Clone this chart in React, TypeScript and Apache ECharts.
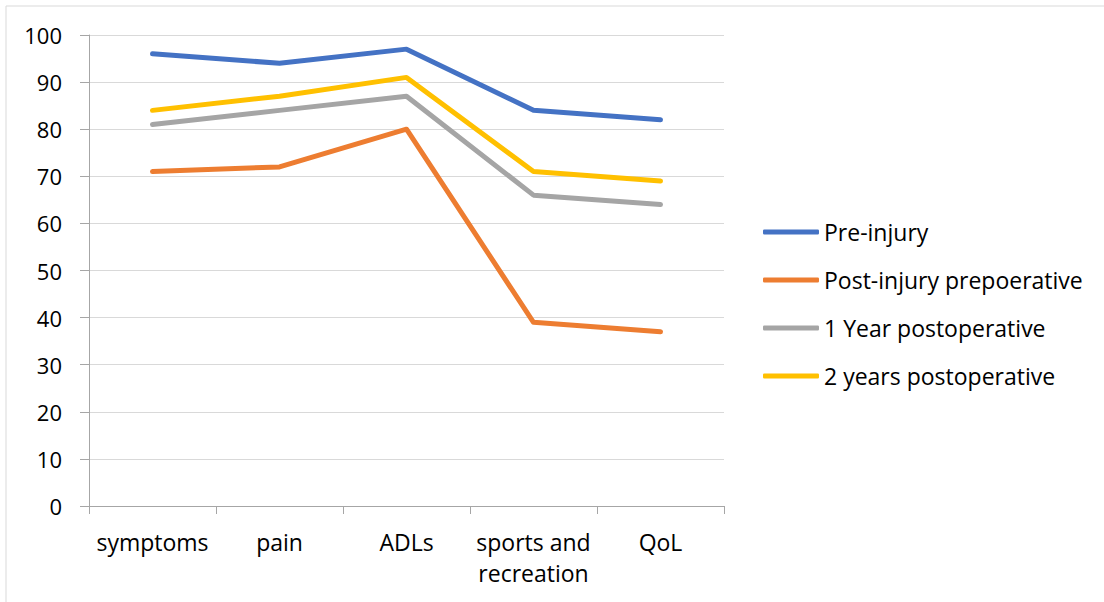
import React, { useEffect, useRef } from "react";
import * as echarts from "echarts";

const categories = ["symptoms", "pain", "ADLs", "sports and\nrecreation", "QoL"];
const preInjury = [96, 94, 97, 84, 82];
const postInjury = [71, 72, 80, 39, 37];
const oneYear = [81, 84, 87, 66, 64];
const twoYears = [84, 87, 91, 71, 69];
const seriesNames = ["Pre-injury", "Post-injury prepoerative", "1 Year postoperative", "2 years postoperative"];
const colors = ["#4472C4", "#ED7D31", "#A5A5A5", "#FFC000"];

export default function App() {
  const ref = useRef<HTMLDivElement>(null);
  useEffect(() => {
    document.body.style.margin = "0";
    const chart = echarts.init(ref.current!, null, { renderer: "svg" });
    const font = "Open Sans";
    const data = [preInjury, postInjury, oneYear, twoYears];
    chart.setOption({
      animation: false,
      backgroundColor: "#fff",
      graphic: [
        {
          type: "rect",
          shape: { x: 6, y: 6, width: 1110, height: 610 },
          style: { fill: "none", stroke: "#D9D9D9", lineWidth: 1 },
          silent: true,
        },
      ],
      grid: { left: 89, right: 380, top: 35, bottom: 96, containLabel: false },
      xAxis: {
        type: "category",
        data: categories,
        boundaryGap: true,
        axisLine: { lineStyle: { color: "#A6A6A6", width: 1 } },
        axisTick: { show: true, length: 8, lineStyle: { color: "#A6A6A6" } },
        axisLabel: { interval: 0, color: "#000", fontSize: 23, fontFamily: font, margin: 20, lineHeight: 31 },
      },
      yAxis: {
        type: "value",
        min: 0,
        max: 100,
        interval: 10,
        axisLine: { show: true, lineStyle: { color: "#A6A6A6", width: 1 } },
        axisTick: { show: true, length: 9, lineStyle: { color: "#A6A6A6" } },
        splitLine: { lineStyle: { color: "#D9D9D9", width: 1 } },
        axisLabel: { color: "#000", fontSize: 22, fontFamily: font, margin: 27 },
      },
      legend: {
        orient: "vertical",
        left: 763,
        top: 220,
        padding: 0,
        itemWidth: 56,
        itemHeight: 5,
        itemGap: 24,
        icon: "roundRect",
        textStyle: { color: "#000", fontSize: 23, fontFamily: font, lineHeight: 24 },
        data: seriesNames,
      },
      series: seriesNames.map((name, i) => ({
        name,
        type: "line",
        data: data[i],
        color: colors[i],
        symbol: "none",
        showSymbol: false,
        lineStyle: { width: 5, color: colors[i], cap: "round", join: "round" },
        itemStyle: { color: colors[i] },
      })),
    });
    return () => chart.dispose();
  }, []);
  return <div ref={ref} style={{ width: 1104, height: 602 }} />;
}
